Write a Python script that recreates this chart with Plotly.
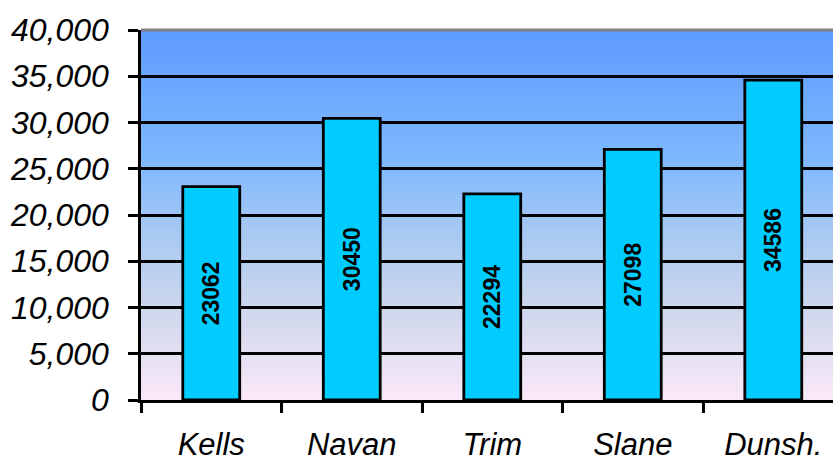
import plotly.graph_objects as go
import zlib, struct, base64

categories = ["Kells", "Navan", "Trim", "Slane", "Dunsh."]
values = [23062, 30450, 22294, 27098, 34586]
y_tickvals = [0, 5000, 10000, 15000, 20000, 25000, 30000, 35000, 40000]

# background gradient stops (fraction from top, rgb)
grad_stops = [(0.0, (94, 156, 255)), (0.35, (126, 184, 255)), (0.55, (168, 201, 242)),
              (0.75, (205, 214, 236)), (1.0, (250, 232, 248))]


def grad_png(h=370):
    rows = b""
    for i in range(h):
        f = i / (h - 1)
        for j in range(len(grad_stops) - 1):
            f0, c0 = grad_stops[j]
            f1, c1 = grad_stops[j + 1]
            if f0 <= f <= f1:
                t = (f - f0) / (f1 - f0)
                c = [round(c0[k] + (c1[k] - c0[k]) * t) for k in range(3)]
                break
        rows += b"\x00" + bytes(c) * 4

    def chunk(tag, data):
        return struct.pack(">I", len(data)) + tag + data + struct.pack(">I", zlib.crc32(tag + data) & 0xffffffff)
    png = b"\x89PNG\r\n\x1a\n" + chunk(b"IHDR", struct.pack(">IIBBBBB", 4, h, 8, 2, 0, 0, 0))
    png += chunk(b"IDAT", zlib.compress(rows)) + chunk(b"IEND", b"")
    return "data:image/png;base64," + base64.b64encode(png).decode()


fig = go.Figure()
fig.add_trace(go.Bar(
    x=categories, y=values,
    width=0.405,
    marker=dict(color="#00ccff", line=dict(color="black", width=2.8)),
    text=[str(v) for v in values],
    textposition="inside",
    insidetextanchor="middle",
    textangle=-90,
    textfont=dict(family="Liberation Sans", size=23, color="black", weight="bold"),
    hoverinfo="skip",
))

fig.add_layout_image(dict(
    source=grad_png(), xref="paper", yref="paper", x=0, y=1, sizex=1, sizey=1,
    xanchor="left", yanchor="top", sizing="stretch", layer="below",
))

fig.add_shape(type="line", xref="paper", yref="paper", x0=0, x1=1, y0=1, y1=1,
              line=dict(color="#808080", width=3), layer="above")

fig.update_layout(
    width=833, height=460,
    margin=dict(l=141, r=0, t=30, b=60, autoexpand=False),
    paper_bgcolor="white",
    plot_bgcolor="rgba(0,0,0,0)",
    showlegend=False,
)
fig.update_xaxes(
    type="category", range=[-0.5, 4.425], automargin=False,
    tickson="boundaries", ticks="outside", ticklen=10, tickwidth=2.5, tickcolor="black",
    showline=True, linecolor="black", linewidth=2.5,
    showgrid=False,
    tickfont=dict(family="Liberation Sans", size=31, color="black", style="italic"),
    ticklabelstandoff=15,
)
fig.update_yaxes(
    range=[0, 40000], tickvals=y_tickvals, tickformat=",", automargin=False,
    ticks="outside", ticklen=10, tickwidth=2.5, tickcolor="black",
    showline=True, linecolor="black", linewidth=2.5,
    showgrid=True, gridcolor="black", gridwidth=2.5,
    zeroline=False,
    tickfont=dict(family="Liberation Sans", size=32, color="black", style="italic"),
    ticklabelstandoff=13,
)

fig.write_html("out.html", config={"displayModeBar": False},
               post_script="document.body.style.margin='0';document.body.style.overflow='hidden';")
